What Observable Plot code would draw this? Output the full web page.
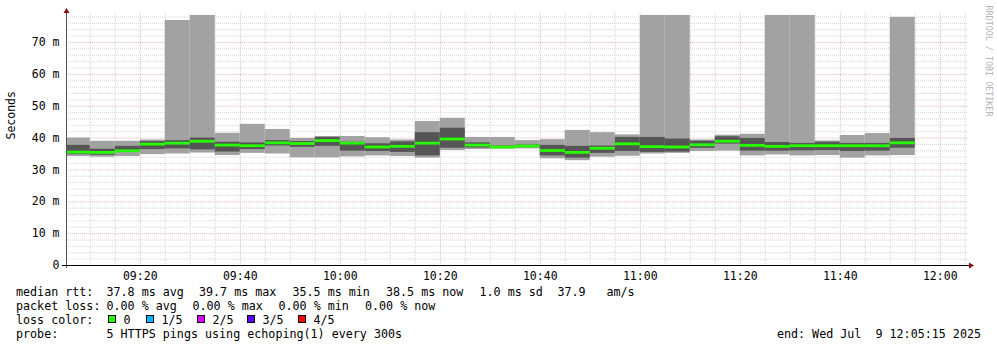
<!DOCTYPE html>
<html><head><meta charset="utf-8">
<script src="https://cdn.jsdelivr.net/npm/d3@7"></script>
<script src="https://cdn.jsdelivr.net/npm/@observablehq/plot@0.6"></script>
<style>
html,body{margin:0;padding:0;background:#fff;}
body{width:997px;height:347px;overflow:hidden;position:relative;font-family:"DejaVu Sans Mono",monospace;}
#chart{position:absolute;left:0;top:0;}
.ft{position:absolute;font-size:11.7px;line-height:14px;white-space:pre;color:#000;}
.box{position:absolute;width:6px;height:6px;border:1px solid #000;}
</style></head><body>
<div id="chart"></div>
<div id="footer"></div>
<script>
// ---- data ----
const slotStart = ["09:05","09:10","09:15","09:20","09:25","09:30","09:35","09:40","09:45","09:50",
  "09:55","10:00","10:05","10:10","10:15","10:20","10:25","10:30","10:35","10:40",
  "10:45","10:50","10:55","11:00","11:05","11:10","11:15","11:20","11:25","11:30",
  "11:35","11:40","11:45","11:50"];
const pingMin = [34.2,34.0,34.2,34.8,35.0,35.3,34.5,35.2,35.0,33.8,
  33.8,34.1,34.4,34.2,33.7,36.1,36.4,36.5,36.6,33.5,
  32.9,34.0,34.3,35.0,35.2,35.8,35.9,34.4,34.7,34.4,
  34.5,33.7,34.4,34.5];
const pingLow = [34.8,34.6,35.5,36.4,36.6,36.3,35.6,36.4,37.5,37.1,
  37.4,35.9,35.8,35.5,34.4,36.8,36.9,36.9,37.0,34.4,
  33.7,35.2,35.8,35.5,35.6,36.8,38.1,35.9,35.9,36.0,
  36.1,35.8,35.9,36.8];
const pingMedian = [35.6,35.5,36.0,38.1,38.4,39.0,37.8,37.6,38.5,38.3,
  39.2,38.4,37.2,37.4,38.4,39.7,37.8,37.2,37.5,36.1,
  35.5,36.8,38.2,37.3,37.2,37.9,39.0,37.7,37.4,37.6,
  37.6,37.6,37.6,38.5];
const pingHigh = [37.7,36.5,37.4,38.9,39.2,40.0,38.7,38.5,39.2,38.9,
  40.2,38.7,38.2,38.8,41.7,43.1,38.5,37.5,37.8,37.7,
  37.4,37.5,40.2,40.2,39.7,39.0,40.4,39.9,38.6,38.3,
  38.7,38.3,38.3,39.9];
const pingMax = [40.0,39.0,39.0,39.4,76.9,78.5,41.5,44.3,42.7,39.9,
  40.5,40.5,40.1,39.4,45.2,46.2,40.2,40.2,39.2,39.5,
  42.4,41.7,41.0,78.5,78.5,39.4,40.9,41.2,78.5,78.5,
  39.1,40.8,41.4,77.9];
const graphEnd = "12:05:15";
const spanMinutes = 180;
const stepMinutes = 5;
const yMax = 79.1;
const yTicks = [0,10,20,30,40,50,60,70];
const xTickLabels = ["09:20","09:40","10:00","10:20","10:40","11:00","11:20","11:40","12:00"];
const yLabel = "Seconds";
const watermark = "RRDTOOL / TOBI OETIKER";
const medianRtt = ["median rtt:","37.8 ms avg","39.7 ms max","35.5 ms min","38.5 ms now","1.0 ms sd","37.9","am/s"];
const packetLoss = ["packet loss:","0.00 % avg","0.00 % max","0.00 % min","0.00 % now"];
const lossLabels = ["0","1/5","2/5","3/5","4/5"];
const lossColors = ["#26ff00","#00b8ff","#dd00ff","#5e00ff","#ff0000"];
const probeText = ["probe:","5 HTTPS pings using echoping(1) every 300s"];
const endText = "end: Wed Jul  9 12:05:15 2025";

// ---- build ----
const toMin = s => { const p = s.split(":").map(Number); return (p[0]-9)*60 + p[1] + (p[2]||0)/60; };
const xEnd = toMin(graphEnd), xStart = xEnd - spanMinutes;
const rows = slotStart.map((s,i) => ({t: toMin(s), t2: toMin(s)+stepMinutes, min: pingMin[i], lo: pingLow[i], med: pingMedian[i], hi: pingHigh[i], max: pingMax[i]}));
const xTicks = xTickLabels.map(toMin);
const labelOf = new Map(xTicks.map((t,i)=>[t, xTickLabels[i]]));
const vGrid = d3.range(Math.ceil(xStart/stepMinutes)*stepMinutes, xEnd, stepMinutes);
const vMinor = vGrid.filter(t => !xTicks.includes(t));
const hMinor = d3.range(2, yMax, 2).filter(v => v % 10 !== 0);
const hMajor = yTicks.filter(v => v > 0);

const plot = Plot.plot({
  width: 997, height: 282,
  marginLeft: 66, marginRight: 31, marginTop: 13, marginBottom: 17,
  style: {fontFamily: "DejaVu Sans Mono", fontSize: "11.5px", background: "#fff", color: "#000"},
  x: {type: "linear", domain: [xStart, xEnd]},
  y: {domain: [0, yMax]},
  marks: [
    Plot.ruleY(hMinor, {stroke: "#d6d6d6", strokeDasharray: "1,1", insetRight: -2}),
    Plot.ruleX(vMinor, {stroke: "#d6d6d6", strokeDasharray: "1,1"}),
    Plot.ruleY(hMajor, {stroke: "#e8b8b8", strokeDasharray: "1,1", insetRight: -2}),
    Plot.ruleX(xTicks, {stroke: "#e8b8b8", strokeDasharray: "1,1"}),
    Plot.rect(rows, {x1: "t", x2: "t2", y1: "min", y2: "max", fill: "#a2a2a2", clip: true}),
    Plot.rect(rows, {x1: "t", x2: "t2", y1: "lo", y2: "hi", fill: "#555555", clip: true}),
    Plot.ruleY(rows, {y: "med", x1: "t", x2: "t2", stroke: lossColors[0], strokeWidth: 2.8, clip: true}),
    Plot.ruleX([xStart], {stroke: "#505050", insetBottom: -3}),
    Plot.ruleY([0], {stroke: "#000", insetLeft: -4, insetRight: -3}),
    Plot.axisY({ticks: yTicks, tickFormat: d => d === 0 ? "0" : d + " m", tickSize: 0, tickPadding: 7, label: null}),
    Plot.axisX({ticks: xTicks, tickFormat: d => labelOf.get(d), tickSize: 0, tickPadding: 6, label: null}),
    Plot.text([yLabel], {text: d => d, frameAnchor: "left", rotate: -90, dx: -55, fontSize: 11.5, fill: "#000"}),
    Plot.text([watermark], {text: d => d, frameAnchor: "top-right", rotate: 90, dx: 22, dy: -8, textAnchor: "start", lineAnchor: "middle", fontSize: 8.4, fill: "#b4b4b4"})
  ]
});
document.getElementById("chart").appendChild(plot);

// axis arrows, positioned from the scales
const xs = plot.scale("x"), ys = plot.scale("y");
const ax = xs.apply(xStart), ay = ys.apply(yMax), bx = xs.apply(xEnd), by = ys.apply(0);
const ns = "http://www.w3.org/2000/svg";
function tri(points){ const p = document.createElementNS(ns, "polygon"); p.setAttribute("points", points); p.setAttribute("fill", "#8b1010"); plot.appendChild(p); }
tri(`${ax-2.5},${ay} ${ax+3.5},${ay} ${ax+0.5},${ay-5}`);
tri(`${bx+3},${by-2.5} ${bx+3},${by+3.5} ${bx+8},${by+0.5}`);

// footer (rrdtool legend)
const foot = document.getElementById("footer");
function txt(x, top, s){ const d = document.createElement("div"); d.className = "ft"; d.style.left = x + "px"; d.style.top = top + "px"; d.textContent = s; foot.appendChild(d); return d; }
const L1 = [16, 106.5, 199, 292.5, 386, 479.5, 557.5, 606.5];
medianRtt.forEach((s,i) => txt(L1[i], 285, s));
const L2 = [16, 106.5, 192.5, 278.5, 365];
packetLoss.forEach((s,i) => txt(L2[i], 299, s));
txt(16, 313, "loss color:");
const boxX = [108, 146, 197, 247, 298];
lossLabels.forEach((s,i) => {
  const b = document.createElement("div"); b.className = "box";
  b.style.left = boxX[i] + "px"; b.style.top = "315px"; b.style.background = lossColors[i];
  foot.appendChild(b);
  txt(boxX[i] + 15.5, 313, s);
});
txt(16, 327, probeText[0]);
txt(106.5, 327, probeText[1]);
const e = txt(0, 327, endText); e.style.left = "auto"; e.style.right = "16px";
</script>
</body></html>
